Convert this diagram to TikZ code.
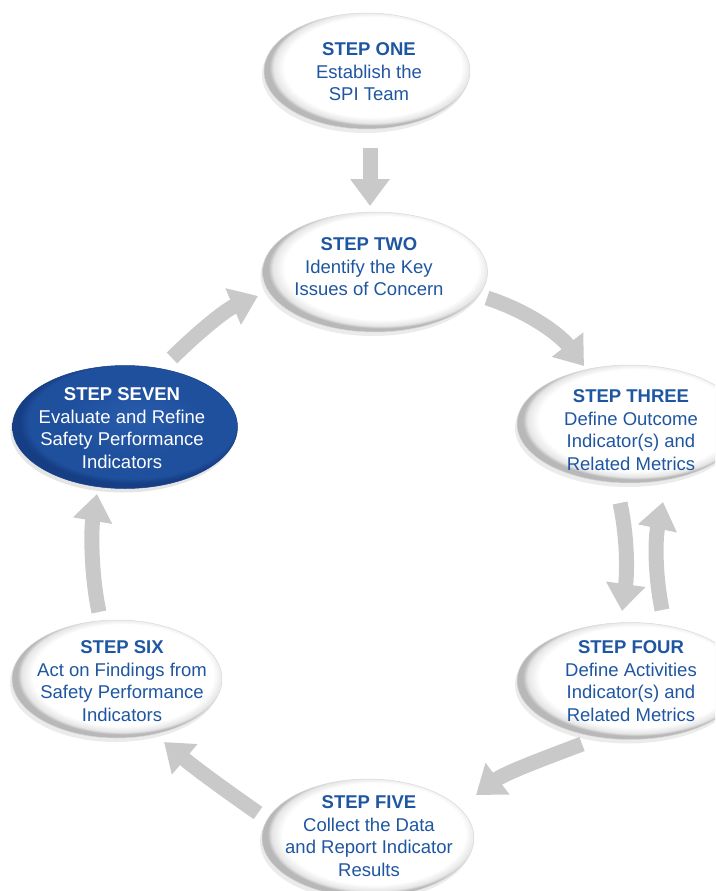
\documentclass[tikz,border=0pt]{standalone}
\usepackage{fontspec}
\setmainfont{Liberation Sans}
\usetikzlibrary{shapes.geometric,arrows.meta,shadows}
\definecolor{stepblue}{RGB}{31,86,162}
\definecolor{arrgray}{RGB}{201,201,201}
\definecolor{bluea}{RGB}{40,92,172}
\definecolor{blueb}{RGB}{31,80,158}
\definecolor{bluec}{RGB}{22,62,132}
\pgfdeclareradialshading{whiterim}{\pgfpoint{2.5bp}{3bp}}{color(0bp)=(white); color(21.5bp)=(white); color(24bp)=(black!10); color(25bp)=(black!28); color(50bp)=(black!28)}
\pgfdeclareradialshading{bluerim}{\pgfpoint{3bp}{4bp}}{color(0bp)=(bluea); color(15bp)=(blueb); color(23bp)=(blueb); color(25bp)=(bluec); color(50bp)=(bluec)}
\tikzset{
  ell/.style={ellipse, shading=whiterim, draw=black!15, line width=0.5pt,
    drop shadow={shadow xshift=-2pt, shadow yshift=-4pt, fill=black, opacity=0.08}},
  ellblue/.style={ellipse, shading=bluerim, draw=bluec, line width=0.5pt,
    drop shadow={shadow xshift=-2pt, shadow yshift=-4pt, fill=black, opacity=0.10}},
  txt/.style={align=center, text=stepblue, font=\fontsize{18.5}{22.5}\selectfont},
  txtw/.style={txt, text=white},
  arr/.style={draw=arrgray, line width=15pt, -{Triangle[length=27pt,width=38pt]}}
}
\begin{document}
\begin{tikzpicture}[x=1pt,y=-1pt]
\useasboundingbox (0,0) rectangle (715,891);
\clip (0,0) rectangle (715,891);
% ellipses
\node[ell, minimum width=206pt, minimum height=116pt] (e1) at (367,71) {};
\node[ell, minimum width=225pt, minimum height=120pt] (e2) at (375,272) {};
\node[ell, minimum width=226pt, minimum height=118pt] (e3) at (630,424) {};
\node[ell, minimum width=226pt, minimum height=117pt] (e4) at (630,681) {};
\node[ell, minimum width=212pt, minimum height=118pt] (e5) at (368,838) {};
\node[ell, minimum width=210pt, minimum height=118pt] (e6) at (117,679) {};
\node[ellblue, minimum width=225pt, minimum height=123pt] (e7) at (125,427) {};
% texts
\node[txt] (t1) at (369,72) {\textbf{STEP ONE}\\Establish the\\SPI Team};
\node[txt] (t2) at (369,267) {\textbf{STEP TWO}\\Identify the Key\\Issues of Concern};
\node[txt] (t3) at (631,430) {\textbf{STEP THREE}\\Define Outcome\\Indicator(s) and\\Related Metrics};
\node[txt] (t4) at (631,681) {\textbf{STEP FOUR}\\Define Activities\\Indicator(s) and\\Related Metrics};
\node[txt] (t5) at (369,836) {\textbf{STEP FIVE}\\Collect the Data\\and Report Indicator\\Results};
\node[txt] (t6) at (122,681) {\textbf{STEP SIX}\\Act on Findings from\\Safety Performance\\Indicators};
\node[txtw] (t7) at (122,428) {\textbf{STEP SEVEN}\\Evaluate and Refine\\Safety Performance\\Indicators};
% arrow end points
\coordinate (a12s) at (370,148); \coordinate (a12e) at (370,206);
\coordinate (a23s) at (487,298); \coordinate (a23e) at (584,366);
\coordinate (a34s) at (620,503); \coordinate (a34e) at (622,611);
\coordinate (a43s) at (662,610); \coordinate (a43e) at (663,502);
\coordinate (a45s) at (582,744); \coordinate (a45e) at (476,795);
\coordinate (a56s) at (258,813); \coordinate (a56e) at (164,742);
\coordinate (a67s) at (99,612);  \coordinate (a67e) at (97,494);
\coordinate (a72s) at (172,358); \coordinate (a72e) at (258,296);
% arrows
\draw[arr] (a12s) -- (a12e);
\draw[arr] (a23s) .. controls (530,312) and (560,335) .. (a23e);
\draw[arr] (a34s) .. controls (628,540) and (627,575) .. (a34e);
\draw[arr] (a43s) .. controls (655,575) and (655,540) .. (a43e);
\draw[arr] (a45s) .. controls (545,758) and (505,773) .. (a45e);
\draw[arr] (a56s) .. controls (225,790) and (195,768) .. (a56e);
\draw[arr] (a67s) .. controls (91,575) and (91,530) .. (a67e);
\draw[arr] (a72s) .. controls (195,335) and (225,310) .. (a72e);
\end{tikzpicture}
\end{document}
